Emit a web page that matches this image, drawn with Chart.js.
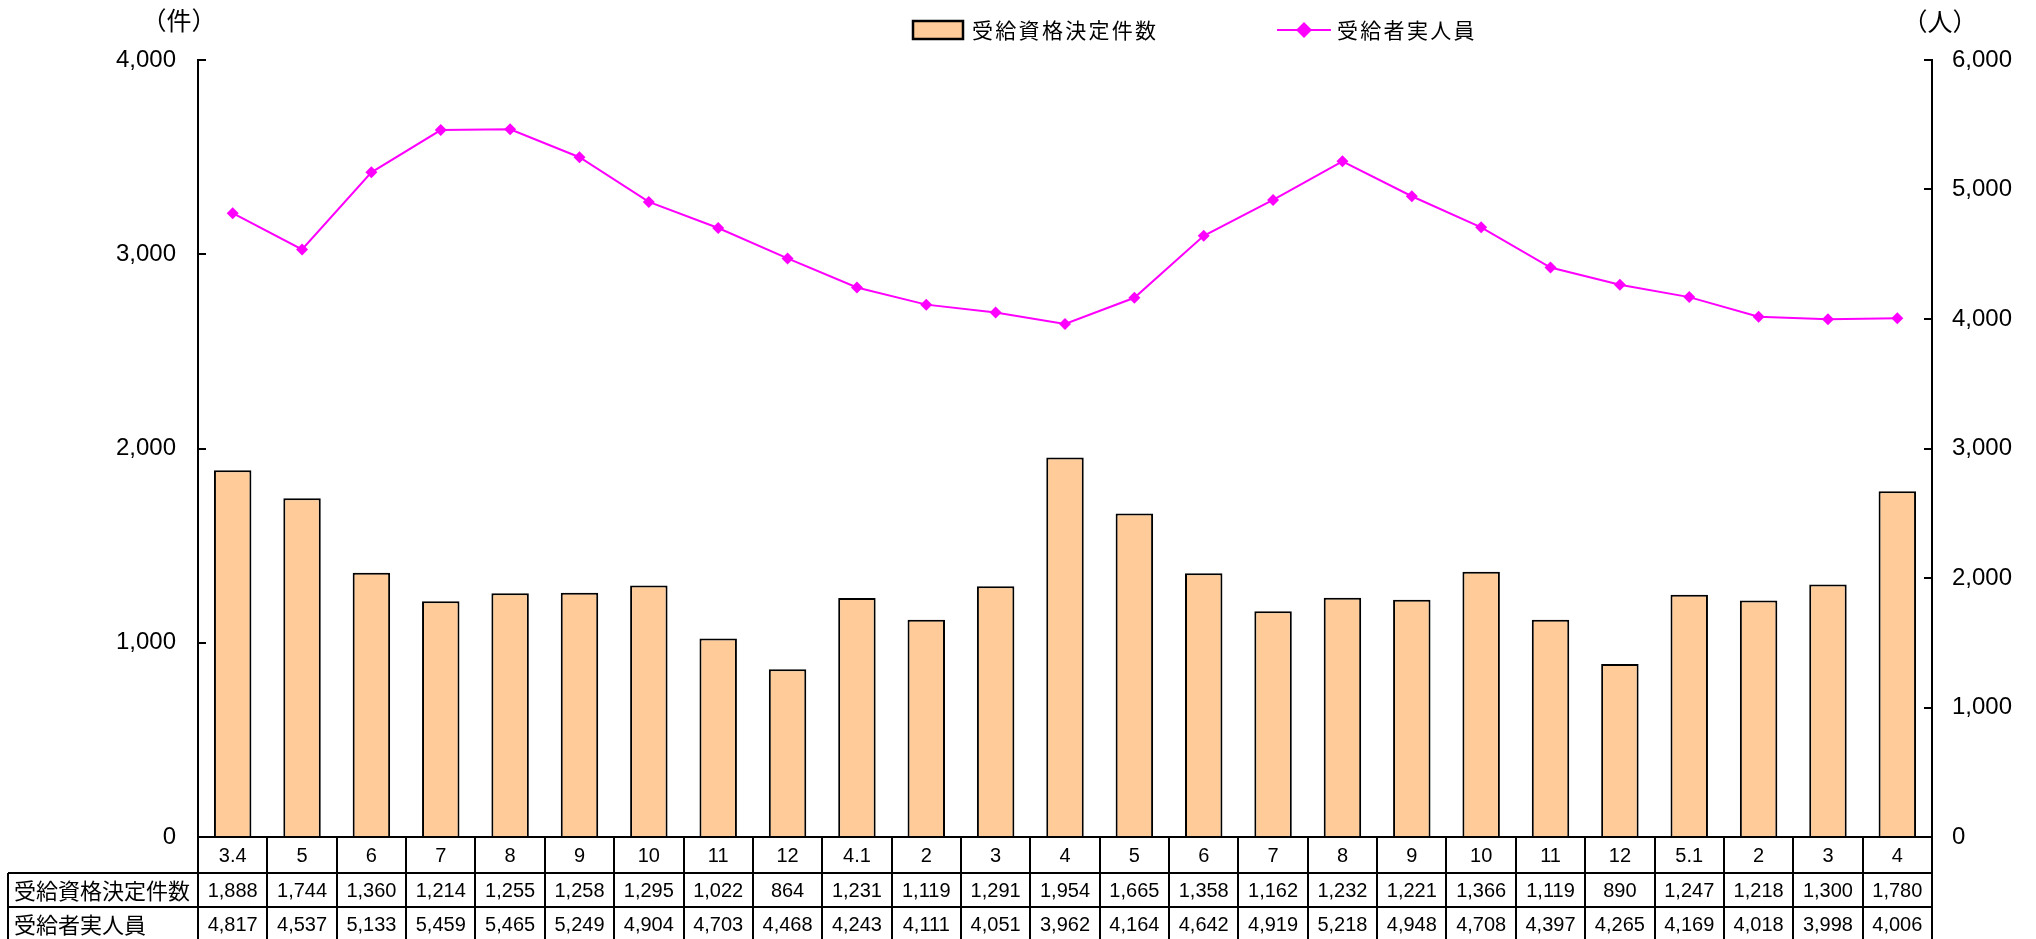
<!DOCTYPE html>
<html><head><meta charset="utf-8">
<script src="https://cdn.jsdelivr.net/npm/chart.js@4/dist/chart.umd.min.js"></script>
<style>html,body{margin:0;padding:0;background:#fff}#wrap{width:2036px;height:939px}</style>
</head><body><div id="wrap"><canvas id="c" width="2036" height="939"></canvas></div>
<script>
const categories = ['3.4','5','6','7','8','9','10','11','12','4.1','2','3','4','5','6','7','8','9','10','11','12','5.1','2','3','4'];
const decisions = [1888,1744,1360,1214,1255,1258,1295,1022,864,1231,1119,1291,1954,1665,1358,1162,1232,1221,1366,1119,890,1247,1218,1300,1780];
const recipients = [4817,4537,5133,5459,5465,5249,4904,4703,4468,4243,4111,4051,3962,4164,4642,4919,5218,4948,4708,4397,4265,4169,4018,3998,4006];
const seriesNames = ['受給資格決定件数','受給者実人員'];
const leftTicks = [0,1000,2000,3000,4000];
const rightTicks = [0,1000,2000,3000,4000,5000,6000];
const unitLeft = '（件）', unitRight = '（人）';

const BAR_FILL = '#FFCC99', LINE_COL = '#FF00FF';
const NUMFONT = '"Liberation Sans", Arial, "Noto Sans CJK JP", sans-serif';
const JPFONT = '"Noto Sans CJK JP", sans-serif';
const fmt = v => v.toLocaleString('en-US');

const extras = {
  id: 'extras',
  afterDraw(chart) {
    const ctx = chart.ctx, ca = chart.chartArea;
    const x = chart.scales.x, yL = chart.scales.y, yR = chart.scales.y1;
    ctx.save();
    ctx.strokeStyle = '#000'; ctx.lineWidth = 2;
    // inward tick marks
    ctx.beginPath();
    yL.ticks.forEach(t => { const p = Math.round(yL.getPixelForValue(t.value)); ctx.moveTo(ca.left, p); ctx.lineTo(ca.left + 8, p); });
    yR.ticks.forEach(t => { const p = Math.round(yR.getPixelForValue(t.value)); ctx.moveTo(ca.right, p); ctx.lineTo(ca.right - 8, p); });
    ctx.stroke();

    // table
    const n = categories.length;
    const w = (ca.right - ca.left) / n;
    const r0 = ca.bottom, r1 = r0 + 36, r2 = r1 + 34, r3 = r2 + 34;
    const hx = 8;
    ctx.beginPath();
    ctx.moveTo(ca.left, r0); ctx.lineTo(ca.right, r0);
    ctx.moveTo(hx, r1); ctx.lineTo(ca.right, r1);
    ctx.moveTo(hx, r2); ctx.lineTo(ca.right, r2);
    ctx.moveTo(hx, r3); ctx.lineTo(ca.right, r3);
    ctx.moveTo(hx, r1); ctx.lineTo(hx, r3);
    for (let i = 0; i <= n; i++) {
      const px = Math.round(ca.left + i * w);
      ctx.moveTo(px, r0); ctx.lineTo(px, r3);
    }
    ctx.stroke();
    ctx.fillStyle = '#000';
    ctx.textAlign = 'center'; ctx.textBaseline = 'middle';
    ctx.font = '20px ' + NUMFONT;
    for (let i = 0; i < n; i++) {
      const cx = x.getPixelForValue(i);
      ctx.fillText(categories[i], cx, (r0 + r1) / 2 + 1);
      ctx.fillText(fmt(decisions[i]), cx, (r1 + r2) / 2 + 1);
      ctx.fillText(fmt(recipients[i]), cx, (r2 + r3) / 2 + 1);
    }
    ctx.textAlign = 'left';
    ctx.font = '22px ' + JPFONT;
    ctx.fillText(seriesNames[0], 14, (r1 + r2) / 2 + 1);
    ctx.fillText(seriesNames[1], 14, (r2 + r3) / 2 + 1);

    // unit labels
    ctx.textAlign = 'center';
    ctx.font = '25px ' + JPFONT;
    ctx.fillText(unitLeft, 179, 20);
    ctx.fillText(unitRight, 1940, 21);

    // legend
    ctx.fillStyle = BAR_FILL; ctx.fillRect(913, 21, 50, 18);
    ctx.lineWidth = 2.5; ctx.strokeRect(913, 21, 50, 18);
    ctx.fillStyle = '#000'; ctx.textAlign = 'left';
    ctx.font = '21px ' + JPFONT;
    ctx.letterSpacing = '2.3px';
    ctx.fillText(seriesNames[0], 972, 30);
    ctx.strokeStyle = LINE_COL; ctx.lineWidth = 2;
    ctx.beginPath(); ctx.moveTo(1277, 30); ctx.lineTo(1331, 30); ctx.stroke();
    ctx.fillStyle = LINE_COL;
    ctx.beginPath(); ctx.moveTo(1304, 22); ctx.lineTo(1312, 30); ctx.lineTo(1304, 38); ctx.lineTo(1296, 30); ctx.closePath(); ctx.fill();
    ctx.fillStyle = '#000';
    ctx.fillText(seriesNames[1], 1337, 30);
    ctx.letterSpacing = '0px';
    ctx.restore();
  }
};

new Chart(document.getElementById('c'), {
  data: {
    labels: categories,
    datasets: [
      { type: 'line', label: seriesNames[1], data: recipients, yAxisID: 'y1', order: 0,
        borderColor: LINE_COL, backgroundColor: LINE_COL, borderWidth: 2,
        pointStyle: 'rectRot', pointRadius: 6, pointBorderWidth: 0, pointBackgroundColor: LINE_COL, tension: 0 },
      { type: 'bar', label: seriesNames[0], data: decisions, yAxisID: 'y', order: 1,
        backgroundColor: BAR_FILL, borderColor: '#000', borderWidth: 2,
        categoryPercentage: 1, barPercentage: 0.54 }
    ]
  },
  options: {
    responsive: false, animation: false,
    devicePixelRatio: 1,
    layout: { padding: { left: 0, right: 0, top: 60, bottom: 102 } },
    plugins: { legend: { display: false }, tooltip: { enabled: false } },
    scales: {
      x: { display: false, offset: true },
      y: { position: 'left', min: 0, max: 4000,
        afterBuildTicks: s => { s.ticks = leftTicks.map(v => ({ value: v })); },
        afterFit: s => { s.width = 198; },
        grid: { display: true, drawOnChartArea: false, drawTicks: false },
        border: { display: true, color: '#000', width: 2 },
        ticks: { padding: 22, color: '#000', font: { size: 24, family: NUMFONT }, callback: v => fmt(v) } },
      y1: { position: 'right', min: 0, max: 6000,
        afterBuildTicks: s => { s.ticks = rightTicks.map(v => ({ value: v })); },
        afterFit: s => { s.width = 104; },
        grid: { display: true, drawOnChartArea: false, drawTicks: false },
        border: { display: true, color: '#000', width: 2 },
        ticks: { padding: 20, color: '#000', font: { size: 24, family: NUMFONT }, callback: v => fmt(v) } }
    }
  },
  plugins: [extras]
});
</script></body></html>
